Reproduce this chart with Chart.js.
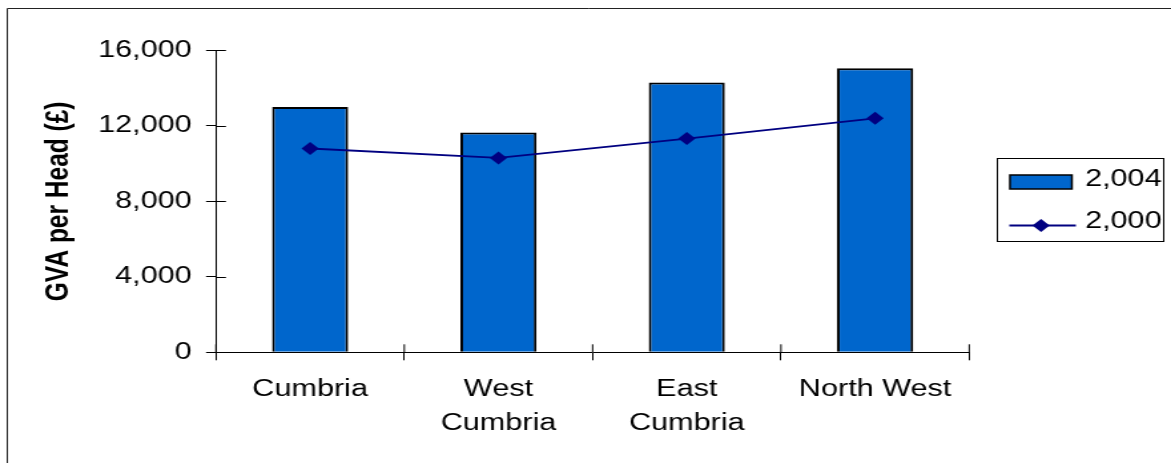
<!DOCTYPE html>
<html>
<head>
<meta charset="utf-8">
<script src="https://cdn.jsdelivr.net/npm/chart.js@4/dist/chart.umd.min.js"></script>
<style>
  html, body { margin: 0; padding: 0; background: #fff; overflow: hidden; }
  /* the reference picture is stretched sideways, so draw narrow and stretch */
  #wrap { position: absolute; left: 0; top: 0; width: 880px; height: 463px; transform: scaleX(1.33068); transform-origin: 0 0; }
</style>
</head>
<body>
<div id="wrap"><canvas id="gva"></canvas></div>
<script>
const categories = ['Cumbria', ['West', 'Cumbria'], ['East', 'Cumbria'], 'North West']
const gva2004 = [13000, 11650, 14300, 15050]
const gva2000 = [10800, 10300, 11330, 12400]
const seriesNames = ['2,004', '2,000']
const yTicks = [0, 4000, 8000, 12000, 16000]

const barColor = '#0066cc'
const lineColor = '#000080'
const fontFamily = "'Liberation Sans', Arial, sans-serif"

// frame, crossing tick marks and the boxed legend
const decor = {
  id: 'decor',
  beforeDraw(chart) {
    const ctx = chart.ctx
    ctx.save()
    ctx.strokeStyle = '#222'
    ctx.lineWidth = 1
    ctx.beginPath()
    ctx.moveTo(5.5, chart.height)
    ctx.lineTo(5.5, 8.5)
    ctx.lineTo(chart.width, 8.5)
    ctx.stroke()
    ctx.restore()
  },
  afterDraw(chart) {
    const ctx = chart.ctx
    const xs = chart.scales.x
    const ys = chart.scales.y
    const area = chart.chartArea
    ctx.save()
    ctx.strokeStyle = '#000'
    ctx.lineWidth = 1
    ctx.beginPath()
    ys.ticks.forEach(t => {
      const py = Math.round(ys.getPixelForValue(t.value)) + 0.5
      ctx.moveTo(area.left, py)
      ctx.lineTo(area.left + 7.5, py)
    })
    for (let i = 0; i <= categories.length; i++) {
      const px = xs.getPixelForValue(i - 0.5)
      ctx.moveTo(px, area.bottom)
      ctx.lineTo(px, area.bottom - 8)
    }
    ctx.stroke()

    // legend
    ctx.fillStyle = '#fff'
    ctx.fillRect(749, 158.5, 125.5, 83)
    ctx.strokeStyle = '#000'
    ctx.strokeRect(749.5, 158.5, 125, 83)

    ctx.fillStyle = barColor
    ctx.fillRect(759, 175, 46.5, 14)
    ctx.lineWidth = 1.5
    ctx.strokeRect(759, 175, 46.5, 14)

    ctx.strokeStyle = lineColor
    ctx.lineWidth = 1.8
    ctx.beginPath()
    ctx.moveTo(758.5, 225.5)
    ctx.lineTo(808.5, 225.5)
    ctx.stroke()
    ctx.fillStyle = lineColor
    ctx.beginPath()
    ctx.moveTo(782.3 - 6.5, 225.5)
    ctx.lineTo(782.3, 225.5 - 6.5)
    ctx.lineTo(782.3 + 6.5, 225.5)
    ctx.lineTo(782.3, 225.5 + 6.5)
    ctx.closePath()
    ctx.fill()

    ctx.fillStyle = '#000'
    ctx.font = '23px ' + fontFamily
    ctx.textBaseline = 'middle'
    ctx.textAlign = 'left'
    ctx.fillText(seriesNames[0], 815.4, 180)
    ctx.fillText(seriesNames[1], 815.4, 222)
    ctx.restore()
  }
}

new Chart(document.getElementById('gva'), {
  type: 'bar',
  data: {
    labels: categories,
    datasets: [
      {
        type: 'line',
        label: seriesNames[1],
        data: gva2000,
        borderColor: lineColor,
        backgroundColor: lineColor,
        borderWidth: 1.8,
        pointStyle: 'rectRot',
        pointRadius: 6.5,
        pointBorderWidth: 0,
        tension: 0,
        order: 0
      },
      {
        type: 'bar',
        label: seriesNames[0],
        data: gva2004,
        backgroundColor: barColor,
        borderColor: '#000',
        borderWidth: 2,
        barPercentage: 0.404,
        categoryPercentage: 1,
        order: 1
      }
    ]
  },
  options: {
    responsive: true,
    maintainAspectRatio: false,
    animation: false,
    layout: { padding: { left: 0, right: 151.6, top: 50.4, bottom: 0 } },
    plugins: {
      legend: { display: false },
      tooltip: { enabled: false }
    },
    scales: {
      x: {
        offset: true,
        grid: { offset: true, drawOnChartArea: false, drawTicks: true, tickLength: 8, color: '#000' },
        border: { display: true, color: '#000', width: 1 },
        ticks: {
          color: '#000',
          padding: 12,
          maxRotation: 0,
          autoSkip: false,
          font: { family: fontFamily, size: 23, lineHeight: 1.48 }
        },
        afterFit: scale => { scale.height = 110.7 }
      },
      y: {
        min: 0,
        max: 16000,
        afterBuildTicks: scale => { scale.ticks = yTicks.map(v => ({ value: v })) },
        grid: { drawOnChartArea: false, drawTicks: true, tickLength: 7.5, color: '#000' },
        border: { display: true, color: '#000', width: 1 },
        ticks: {
          color: '#000',
          padding: 10.7,
          font: { family: fontFamily, size: 23 },
          callback: v => v.toLocaleString('en-US')
        },
        title: {
          display: true,
          text: 'GVA per Head (£)',
          color: '#000',
          padding: { top: 29.6, bottom: 0 },
          font: { family: fontFamily, size: 24.5, weight: 'bold' }
        },
        afterFit: scale => { scale.width = 162.3 }
      }
    }
  },
  plugins: [decor]
})
</script>
</body>
</html>
